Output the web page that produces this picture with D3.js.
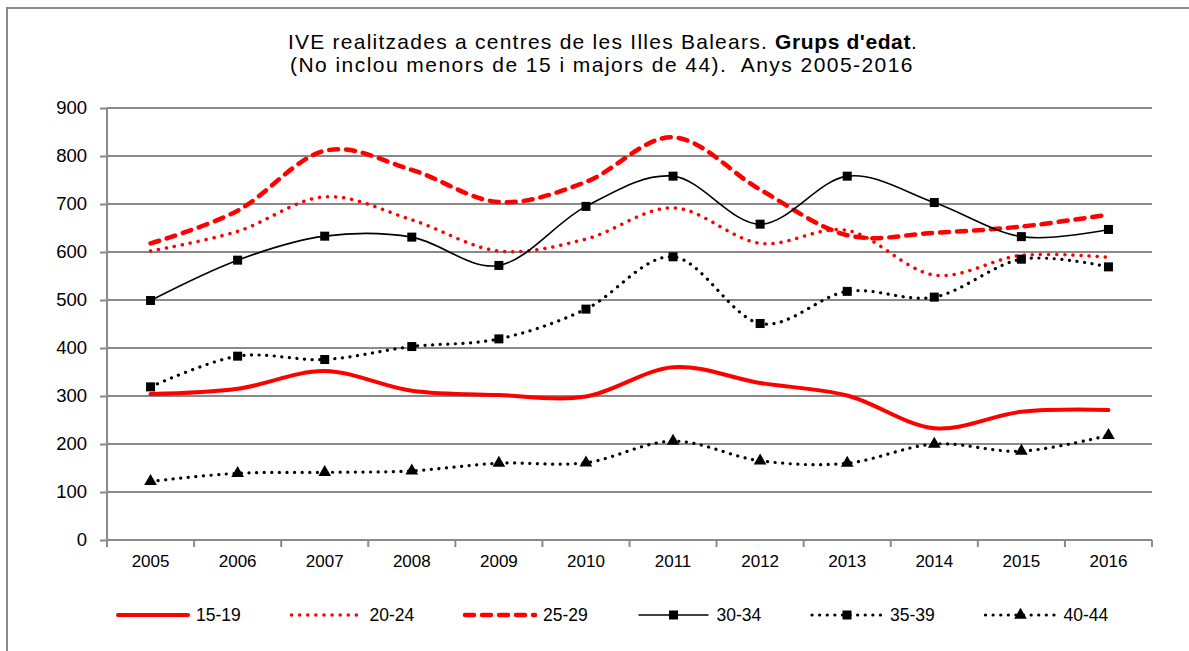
<!DOCTYPE html>
<html>
<head>
<meta charset="utf-8">
<script src="https://cdn.jsdelivr.net/npm/d3@7"></script>
<style>
  body { margin: 0; background: #fff; }
  svg { display: block; }
</style>
</head>
<body>
<svg width="1189" height="651"></svg>
<script>
var years = ['2005', '2006', '2007', '2008', '2009', '2010', '2011', '2012', '2013', '2014', '2015', '2016'];
var yTicks = [0, 100, 200, 300, 400, 500, 600, 700, 800, 900];

var g1519 = [304, 315, 352, 311, 302, 299, 360, 327, 301, 233, 267, 271];
var g2024 = [602, 643, 715, 667, 602, 627, 692, 618, 645, 552, 593, 589];
var g2529 = [618, 686, 811, 771, 704, 746, 839, 730, 635, 640, 653, 678];
var g3034 = [499, 583, 633, 631, 572, 695, 758, 658, 758, 703, 632, 647];
var g3539 = [319, 383, 376, 403, 419, 481, 590, 451, 518, 506, 585, 569];
var g4044 = [122, 139, 141, 144, 160, 161, 206, 165, 160, 200, 185, 218];

var seriesNames = ['15-19', '20-24', '25-29', '30-34', '35-39', '40-44'];
var seriesValues = [g1519, g2024, g2529, g3034, g3539, g4044];

var styles = {
  '15-19': { color: '#ff0000', width: 4, dash: null, cap: 'round', marker: null },
  '20-24': { color: '#ff0000', width: 3.5, dash: '0.1 8', cap: 'round', marker: null },
  '25-29': { color: '#ff0000', width: 4.5, dash: '9 8', cap: 'round', marker: null },
  '30-34': { color: '#000', width: 1.6, dash: null, cap: 'butt', marker: 'square' },
  '35-39': { color: '#000', width: 3.2, dash: '0.1 7.5', cap: 'round', marker: 'square' },
  '40-44': { color: '#000', width: 3.2, dash: '0.1 7.5', cap: 'round', marker: 'triangle' }
};

var svg = d3.select('svg');
var font = '"Liberation Sans", Arial, sans-serif';

// outer chart border
svg.append('rect')
  .attr('x', 7).attr('y', 8)
  .attr('width', 1300).attr('height', 800)
  .attr('fill', 'none')
  .attr('stroke', '#8c8c8c')
  .attr('stroke-width', 2);

var xScale = d3.scaleBand().domain(years).range([107, 1152]);
var yScale = d3.scaleLinear().domain([0, 900]).range([540, 108]);

// grid
svg.append('g').selectAll('line').data(yTicks.filter(function(d) { return d > 0; })).enter()
  .append('line')
  .attr('x1', 107).attr('x2', 1152)
  .attr('y1', function(d) { return yScale(d); })
  .attr('y2', function(d) { return yScale(d); })
  .attr('stroke', '#8a8a8a')
  .attr('stroke-width', 2);

var axisLeft = d3.axisLeft(yScale).tickValues(yTicks).tickSize(7).tickPadding(13);
var gy = svg.append('g').attr('transform', 'translate(107,0)').call(axisLeft);
gy.select('.domain').attr('stroke', '#8a8a8a').attr('stroke-width', 2).attr('d', 'M0,540V108');
gy.selectAll('.tick line').attr('stroke', '#8a8a8a').attr('stroke-width', 2);
gy.selectAll('.tick text').attr('font-family', font).attr('font-size', '18.5px').attr('fill', '#000');

var axisBottom = d3.axisBottom(xScale).tickSize(0).tickPadding(15);
var gx = svg.append('g').attr('transform', 'translate(0,540)').call(axisBottom);
gx.select('.domain').attr('stroke', '#8a8a8a').attr('stroke-width', 2).attr('d', 'M107,0H1152');
gx.selectAll('.tick text').attr('font-family', font).attr('font-size', '17px').attr('fill', '#000');
// category boundary ticks
svg.append('g').selectAll('line').data(years.concat(['end'])).enter()
  .append('line')
  .attr('x1', function(d, i) { return 107 + i * xScale.step(); })
  .attr('x2', function(d, i) { return 107 + i * xScale.step(); })
  .attr('y1', 540).attr('y2', 547)
  .attr('stroke', '#8a8a8a')
  .attr('stroke-width', 2);

var xc = function(d) { return xScale(d) + xScale.bandwidth() / 2; };

var line = d3.line()
  .x(function(d, i) { return xc(years[i]); })
  .y(function(d) { return yScale(d); })
  .curve(d3.curveCardinal.tension(0));

var triangle = d3.symbol().type(d3.symbolTriangle).size(70);

function drawMarker(sel, type, x, y) {
  if (type === 'square') {
    sel.append('rect')
      .attr('x', x - 4.5).attr('y', y - 4.5)
      .attr('width', 9).attr('height', 9)
      .attr('fill', '#000');
  } else if (type === 'triangle') {
    sel.append('path')
      .attr('d', triangle())
      .attr('transform', 'translate(' + x + ',' + y + ')')
      .attr('fill', '#000');
  }
}

seriesNames.forEach(function(name, k) {
  var st = styles[name];
  var g = svg.append('g');
  g.append('path')
    .attr('d', line(seriesValues[k]))
    .attr('fill', 'none')
    .attr('stroke', st.color)
    .attr('stroke-width', st.width)
    .attr('stroke-linecap', st.cap)
    .attr('stroke-dasharray', st.dash);
  if (st.marker) {
    seriesValues[k].forEach(function(v, i) {
      drawMarker(g, st.marker, xc(years[i]), yScale(v));
    });
  }
});

// title
var title = svg.append('text')
  .attr('x', 603).attr('y', 49)
  .attr('text-anchor', 'middle')
  .attr('font-family', font)
  .attr('font-size', '21px')
  .attr('letter-spacing', '1.25px')
  .attr('fill', '#000');
title.append('tspan').text('IVE realitzades a centres de les Illes Balears. ');
title.append('tspan').attr('font-weight', 'bold').attr('letter-spacing', '0.6px').text("Grups d'edat");
title.append('tspan').text('.');
svg.append('text')
  .attr('x', 602).attr('y', 72)
  .attr('text-anchor', 'middle')
  .attr('font-family', font)
  .attr('font-size', '21px')
  .attr('letter-spacing', '1.45px')
  .attr('fill', '#000')
  .attr('xml:space', 'preserve')
  .text('(No inclou menors de 15 i majors de 44).  Anys 2005-2016');

// legend
var legendY = 615;
var legend = svg.append('g');
seriesNames.forEach(function(name, i) {
  var st = styles[name];
  var x0 = 118 + i * 173.5;
  var item = legend.append('g');
  item.append('line')
    .attr('x1', x0).attr('x2', x0 + 70)
    .attr('y1', legendY).attr('y2', legendY)
    .attr('stroke', st.color)
    .attr('stroke-width', st.width)
    .attr('stroke-linecap', st.cap)
    .attr('stroke-dasharray', st.dash);
  if (st.marker) drawMarker(item, st.marker, x0 + 35, legendY);
  item.append('text')
    .attr('x', x0 + 78).attr('y', legendY + 6)
    .attr('font-family', font)
    .attr('font-size', '17.5px')
    .attr('fill', '#000')
    .text(name);
});
</script>
</body>
</html>
